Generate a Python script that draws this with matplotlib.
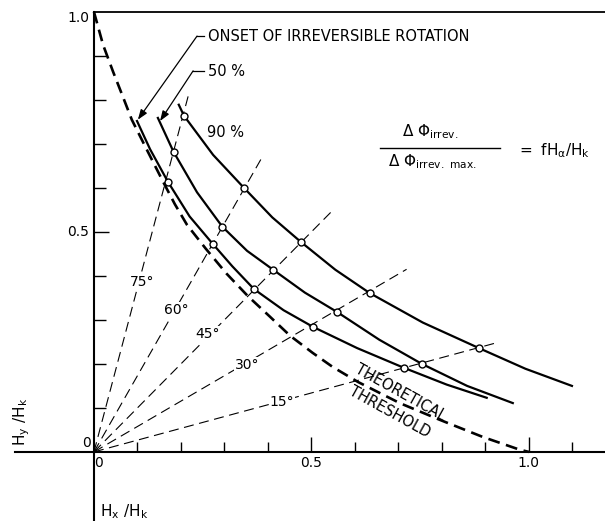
import numpy as np
import matplotlib
matplotlib.use('Agg')
import matplotlib.pyplot as plt

plt.rcParams['font.family'] = ['DejaVu Sans']
plt.rcParams['mathtext.fontset'] = 'dejavusans'
plt.rcParams['mathtext.default'] = 'regular'

# --- donnees (Hx/Hk, Hy/Hk) ---
seuil_hx = [0.0, 0.021, 0.044, 0.067, 0.087, 0.122, 0.159, 0.186, 0.214, 0.257, 0.305,
            0.354, 0.405, 0.451, 0.503, 0.549, 0.607, 0.703, 0.795, 0.894, 0.979, 1.0]
seuil_hy = [1.0, 0.925, 0.864, 0.806, 0.755, 0.686, 0.614, 0.563, 0.516, 0.462, 0.405,
            0.354, 0.307, 0.264, 0.225, 0.193, 0.159, 0.111, 0.073, 0.034, 0.005, 0.0]

onset_hx = [0.099, 0.129, 0.170, 0.220, 0.273, 0.318, 0.368, 0.436, 0.504, 0.605, 0.713, 0.811, 0.903]
onset_hy = [0.752, 0.688, 0.614, 0.535, 0.473, 0.422, 0.370, 0.322, 0.284, 0.236, 0.191, 0.153, 0.123]

p50_hx = [0.147, 0.183, 0.237, 0.295, 0.352, 0.412, 0.485, 0.559, 0.656, 0.754, 0.858, 0.963]
p50_hy = [0.759, 0.682, 0.590, 0.512, 0.457, 0.414, 0.362, 0.318, 0.255, 0.200, 0.150, 0.111]

p90_hx = [0.195, 0.207, 0.274, 0.345, 0.410, 0.476, 0.555, 0.634, 0.756, 0.885, 0.992, 1.099]
p90_hy = [0.789, 0.764, 0.675, 0.600, 0.533, 0.477, 0.414, 0.361, 0.294, 0.236, 0.189, 0.150]

# points marques (cercles) aux angles 75, 60, 45, 30, 15 deg
onset_cx = [0.170, 0.273, 0.368, 0.504, 0.713]
onset_cy = [0.614, 0.473, 0.370, 0.284, 0.191]
p50_cx = [0.183, 0.295, 0.412, 0.559, 0.754]
p50_cy = [0.682, 0.512, 0.414, 0.318, 0.200]
p90_cx = [0.207, 0.345, 0.476, 0.634, 0.885]
p90_cy = [0.764, 0.600, 0.477, 0.361, 0.236]

angles = [15, 30, 45, 60, 75]
rayons = [0.961, 0.830, 0.779, 0.779, 0.840]
angle_lbl_x = [0.432, 0.352, 0.262, 0.189, 0.110]
angle_lbl_y = [0.114, 0.198, 0.268, 0.323, 0.386]

xticks = [0.1, 0.2, 0.3, 0.4, 0.5, 0.6, 0.7, 0.8, 0.9, 1.0, 1.1]
yticks = [0.1, 0.2, 0.3, 0.4, 0.5, 0.6, 0.7, 0.8, 0.9]

# --- figure ---
fig = plt.figure(figsize=(6.05, 5.21), dpi=100)
ax = fig.add_axes([0, 0, 1, 1])
ax.set_xlim(-0.216, 1.175)
ax.set_ylim(-0.157, 1.027)
ax.axis('off')

# axes dessines a la main
ax.plot([-0.182, 1.175], [0, 0], color='black', lw=1.5)
ax.plot([0, 0], [-0.157, 1.0], color='black', lw=1.5)
ax.plot([0, 1.175], [1.0, 1.0], color='black', lw=1.3)
ax.vlines(xticks, 0, [0.034 if t in (0.5, 1.0) else 0.023 for t in xticks], color='black', lw=1.0)
ax.hlines(yticks, 0, [0.034 if t == 0.5 else 0.028 for t in yticks], color='black', lw=1.0)

# droites radiales
for ang, r in zip(angles, rayons):
    a = np.radians(ang)
    ax.plot([0, r * np.cos(a)], [0, r * np.sin(a)], color='black', lw=0.8,
            dashes=(9, 5), zorder=2)
for ang, lx, ly in zip(angles, angle_lbl_x, angle_lbl_y):
    ax.text(lx, ly, f'{ang}°', fontsize=10, ha='center', va='center', zorder=4,
            bbox=dict(facecolor='white', edgecolor='none', pad=0.5))

# seuil theorique
ax.plot(seuil_hx, seuil_hy, color='black', lw=1.9, dashes=(4.5, 2.5), zorder=3)

# courbes
for cx, cy in [(onset_hx, onset_hy), (p50_hx, p50_hy), (p90_hx, p90_hy)]:
    ax.plot(cx, cy, color='black', lw=1.6, zorder=3)
for cx, cy in [(onset_cx, onset_cy), (p50_cx, p50_cy), (p90_cx, p90_cy)]:
    ax.plot(cx, cy, 'o', ms=5, mfc='white', mec='black', mew=1.0, zorder=5)

# annotations
ax.text(0.262, 0.943, 'ONSET OF IRREVERSIBLE ROTATION', fontsize=10.5, ha='left', va='center')
ax.text(0.262, 0.864, '50 %', fontsize=10.5, ha='left', va='center')
ax.text(0.260, 0.727, '90 %', fontsize=10.5, ha='left', va='center')
fleche = dict(arrowstyle='-|>,head_length=0.6,head_width=0.22', color='black', lw=0.9,
              shrinkA=0, shrinkB=0)
ax.plot([0.237, 0.252], [0.945, 0.945], color='black', lw=0.9)
ax.annotate('', xy=(0.101, 0.755), xytext=(0.237, 0.945), arrowprops=fleche)
ax.plot([0.228, 0.252], [0.866, 0.866], color='black', lw=0.9)
ax.annotate('', xy=(0.152, 0.752), xytext=(0.228, 0.866), arrowprops=fleche)

ax.text(0.706, 0.134, 'THEORETICAL', fontsize=10.5, rotation=-29, ha='center', va='center')
ax.text(0.680, 0.091, 'THRESHOLD', fontsize=10.5, rotation=-29, ha='center', va='center')

# formule
ax.text(0.772, 0.727, r'$\Delta\ \Phi_{irrev.}$', fontsize=11, ha='center', va='center')
ax.plot([0.657, 0.933], [0.691, 0.691], color='black', lw=1.0)
ax.text(0.777, 0.660, r'$\Delta\ \Phi_{irrev.\ max.}$', fontsize=11, ha='center', va='center')
ax.text(0.972, 0.684, r'$=\ fH_{\alpha}/H_k$', fontsize=11, ha='left', va='center')

# graduations
ax.text(-0.010, 1.0 - 0.015, '1.0', fontsize=10, ha='right', va='center')
ax.text(-0.012, 0.5, '0.5', fontsize=10, ha='right', va='center')
ax.text(-0.018, 0.020, '0', fontsize=10, ha='center', va='center')
ax.text(0.011, -0.025, '0', fontsize=10, ha='center', va='center')
ax.text(0.500, -0.025, '0.5', fontsize=10, ha='center', va='center')
ax.text(1.000, -0.025, '1.0', fontsize=10, ha='center', va='center')
ax.text(0.069, -0.136, r'$H_x\ /H_k$', fontsize=11, ha='center', va='center')
ax.text(-0.166, 0.068, r'$H_y\ /H_k$', fontsize=11, rotation=90, ha='center', va='center')

fig.savefig('out.png', dpi=100)
